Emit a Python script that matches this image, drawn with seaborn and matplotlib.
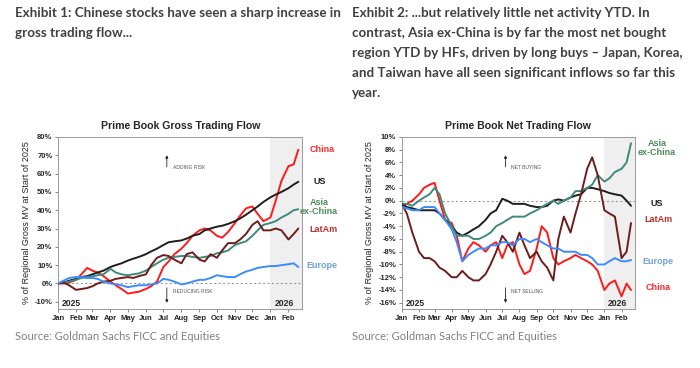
import numpy as np
import pandas as pd
import matplotlib
matplotlib.use("Agg")
import matplotlib.pyplot as plt
import matplotlib.dates as mdates
import seaborn as sns

# sample dates (roughly every 10 days)
dates = pd.to_datetime([
    "2025-01-01", "2025-01-10", "2025-01-20", "2025-02-01", "2025-02-10", "2025-02-20",
    "2025-03-01", "2025-03-10", "2025-03-20", "2025-04-01", "2025-04-10", "2025-04-20",
    "2025-05-01", "2025-05-10", "2025-05-20", "2025-06-01", "2025-06-10", "2025-06-20",
    "2025-07-01", "2025-07-10", "2025-07-20", "2025-08-01", "2025-08-10", "2025-08-20",
    "2025-09-01", "2025-09-10", "2025-09-20", "2025-10-01", "2025-10-10", "2025-10-20",
    "2025-11-01", "2025-11-10", "2025-11-20", "2025-12-01", "2025-12-10", "2025-12-20",
    "2026-01-01", "2026-01-10", "2026-01-20", "2026-02-01", "2026-02-10", "2026-02-18",
])

regions = ["China", "US", "Asia ex-China", "LatAm", "Europe"]

# Exhibit 1: gross trading flow (% of regional gross MV at start of 2025)
gross_china = [0, 0, 0.5, 2, 5, 8.5, 7, 6, 4, 1, -1, -3, -5.5, -5, -4.5, -3, -1.5, 1,
               9, 12, 16, 19, 22, 26, 29, 30, 29, 26, 25, 28, 33, 37, 41, 42, 38, 34,
               36, 45, 56, 64, 65, 73]
gross_us = [0, 0.5, 1.5, 2.5, 3.5, 4, 5, 6, 7, 9, 10, 11, 12.5, 13.5, 14.5, 16, 17.5, 19,
            21, 22.5, 23, 23.5, 24.5, 26, 27, 29, 30, 31, 31.5, 32.5, 34, 35.5, 37.5, 40,
            42, 44.5, 47, 48.5, 50, 52, 54, 55.5]
gross_asia = [0, 0.5, 1, 2, 3, 3.5, 4, 4.5, 5, 8, 6, 5, 4.5, 5, 5.5, 7, 9, 11,
              13, 14, 14.5, 15, 15, 14.5, 14, 14.5, 15, 16.5, 17, 18, 21, 22, 23, 26,
              29, 32, 33, 34, 36, 38, 40, 40.5]
gross_latam = [0, 0.5, -1, -3.5, -3, -2.5, -1.5, 0, 1, 1.5, 2.5, 3, 3.5, 3, 4, 5, 10, 14,
               15.5, 15, 13, 11, 16, 17, 13, 12, 16, 14, 18, 22, 22, 24, 27, 32, 34, 29,
               29, 30, 29, 24, 27, 30]
gross_europe = [0, 1.5, 3, 3.5, 3.5, 3, 3, 2.5, 1, 0, -0.5, -1, -2, -1.5, -1, -1, -0.5, 0,
                2.5, 2, 1, -0.5, 0, 1, 2, 2, 3, 4.5, 4, 3.5, 3.5, 5, 6.5, 7.5, 8.5, 9,
                9.5, 9.5, 10, 10.5, 11, 9]

# Exhibit 2: net trading flow
net_asia = [-0.5, -0.5, -0.8, 0, 0.5, 1, 2, 1, -2, -4, -5.5, -5.5, -5.5, -6, -6, -5.5, -5, -4,
            -3.5, -3, -2.5, -2.5, -2.5, -2, -1.5, -1, -0.5, 0, -0.5, 0, 0.5, 1.5, 1.5, 2,
            2.5, 4, 3, 3.5, 4.5, 5, 6, 9]
net_us = [-0.5, -1, -1.2, -1.5, -1.5, -1.5, -1.5, -2, -3, -4, -5, -5.5, -5, -4.5, -4, -3, -2, -1.5,
          0.3, 0, -0.5, -0.5, -0.5, -0.8, -1, -1, -0.8, 0, 0.2, 0, 0.5, 0.8, 1, 2,
          2, 1.8, 1.5, 1.2, 1, 0.8, 0, -0.8]
net_latam = [-0.5, -2, -5, -8, -9, -9, -9.5, -10.5, -11, -12, -12, -11, -12, -12.5, -12.5, -11.5, -10, -8,
             -5.5, -6.5, -8, -5, -7, -9, -8, -9.5, -10.5, -12.5, -6, -2.5, -5, -2, 1, 5,
             6.8, 4, -1.5, -2, -2.5, -9, -8, -3.5]
net_china = [-1, -0.5, 0, 1, 2, 2.5, 2.8, 0, -3, -3.5, -5.5, -9.5, -7.5, -6.5, -7, -8, -7, -6.5,
             -9, -7, -6.5, -10, -11.5, -11, -7.5, -4, -5, -9, -10, -9.5, -9, -8.5, -9, -9.5,
             -10, -11, -14, -13, -12.5, -15, -13, -14]
net_europe = [-1, -1.2, -1.5, -1.5, -1, -1, -1, -2, -3, -4.5, -6.5, -9.5, -8.5, -8, -7.5, -7.5, -7, -7,
              -6.5, -6.5, -7, -6, -6, -6.5, -6, -6.5, -7, -7.5, -7.5, -8, -8, -8, -8.5, -8.5,
              -9, -10, -10, -9.5, -9, -9.5, -9.5, -9.3]

line_colors = {"China": "#ff1a1a", "US": "#1e1e1e", "Asia ex-China": "#3f8a78",
               "LatAm": "#6e1c1c", "Europe": "#3b8cff"}
label_colors = {"China": "#ff2a2a", "US": "#1e1e1e", "Asia ex-China": "#4f8a5a",
                "LatAm": "#c0302a", "Europe": "#6fa2e0"}

gross = pd.DataFrame({"date": np.tile(dates, 5),
                      "region": np.repeat(regions, len(dates)),
                      "value": gross_china + gross_us + gross_asia + gross_latam + gross_europe})
net = pd.DataFrame({"date": np.tile(dates, 5),
                    "region": np.repeat(regions, len(dates)),
                    "value": net_china + net_us + net_asia + net_latam + net_europe})

sns.set_style("white")
plt.rcParams["font.family"] = ["Liberation Sans", "DejaVu Sans"]

fig = plt.figure(figsize=(7, 3.68), dpi=100)
ax1 = fig.add_axes([0.083, 0.160, 0.349, 0.468])
ax2 = fig.add_axes([0.574, 0.160, 0.333, 0.468])

hdr = dict(family=["Lato", "DejaVu Sans"], fontweight="bold", color="#404040", fontsize=9.6, va="center")
fig.text(15 / 700, 1 - 13 / 368, "Exhibit 1: Chinese stocks have seen a sharp increase in", **hdr)
fig.text(15 / 700, 1 - 33 / 368, "gross trading flow...", **hdr)
right_lines = ["Exhibit 2: ...but relatively little net activity YTD. In",
               "contrast, Asia ex-China is by far the most net bought",
               "region YTD by HFs, driven by long buys \u2013 Japan, Korea,",
               "and Taiwan have all seen significant inflows so far this",
               "year."]
for i, t in enumerate(right_lines):
    fig.text(352 / 700, 1 - (13 + 20 * i) / 368, t, **hdr)

src = dict(family=["Lato", "DejaVu Sans"], color="#808080", fontsize=8, va="center")
fig.text(15 / 700, 1 - 336 / 368, "Source: Goldman Sachs FICC and Equities", **src)
fig.text(352 / 700, 1 - 336 / 368, "Source: Goldman Sachs FICC and Equities", **src)

x0 = pd.Timestamp("2025-01-01")
x1 = pd.Timestamp("2026-02-25")
shade0 = pd.Timestamp("2026-01-01")


def style_axis(ax, data, title, ylim, yticks, up_text, down_text, label_pos):
    ax.axvspan(shade0, x1, color="#efefef", zorder=0, lw=0)
    ax.axhline(0, color="#9a9a9a", ls=(0, (2, 2)), lw=0.8, zorder=1)
    sns.lineplot(data=data, x="date", y="value", hue="region", palette=line_colors,
                 hue_order=regions, legend=False, lw=1.4, ax=ax, zorder=3)
    ax.set_xlim(x0, x1)
    ax.set_ylim(*ylim)
    ax.set_yticks(yticks)
    ax.set_yticklabels([f"{v:g}%" for v in yticks], fontsize=5.5, fontweight="bold")
    ax.xaxis.set_major_locator(mdates.MonthLocator())
    ax.xaxis.set_major_formatter(mdates.DateFormatter("%b"))
    for lab in ax.get_xticklabels():
        lab.set_fontsize(5.5)
        lab.set_fontweight("bold")
    ax.tick_params(axis="both", length=2.5, width=0.6, color="#777777", pad=1.5, direction="out",
                   bottom=True, left=True)
    for s in ax.spines.values():
        s.set_color("#999999")
        s.set_linewidth(0.7)
    ax.set_xlabel("")
    ax.set_ylabel("% of Regional Gross MV at Start of 2025", fontsize=6.5, labelpad=3)
    ax.set_title(title, fontsize=7.6, fontweight="bold", pad=6)
    ax.text(0.015, 0.008, "2025", transform=ax.transAxes, fontsize=6.2, fontweight="bold", va="bottom")
    ax.text(0.885, 0.008, "2026", transform=ax.transAxes, fontsize=6.2, fontweight="bold", va="bottom")
    ax.annotate("", xy=(0.445, 0.91), xytext=(0.445, 0.81), xycoords="axes fraction",
                arrowprops=dict(arrowstyle="-|>", color="#222222", lw=0.6, mutation_scale=4))
    ax.text(0.47, 0.82, up_text, transform=ax.transAxes, fontsize=3.6, color="#555555", va="center")
    ax.annotate("", xy=(0.445, 0.02), xytext=(0.445, 0.14), xycoords="axes fraction",
                arrowprops=dict(arrowstyle="-|>", color="#222222", lw=0.6, mutation_scale=4))
    ax.text(0.47, 0.10, down_text, transform=ax.transAxes, fontsize=3.6, color="#555555", va="center")
    for name, (px, py) in label_pos.items():
        fig.text(px / 700, 1 - py / 368, name.replace("Asia ex-China", "Asia\nex-China"),
                 color=label_colors[name], fontsize=6.5, fontweight="bold",
                 ha="center", va="center", linespacing=1.1)


style_axis(ax1, gross, "Prime Book Gross Trading Flow", (-14, 80), list(range(-10, 81, 10)),
           "ADDING RISK", "REDUCING RISK",
           {"China": (322, 149), "US": (320, 181), "Asia ex-China": (319, 207),
            "LatAm": (323, 230), "Europe": (322, 265)})
style_axis(ax2, net, "Prime Book Net Trading Flow", (-17, 10), list(range(-16, 11, 2)),
           "NET BUYING", "NET SELLING",
           {"Asia ex-China": (657, 148), "US": (657, 204), "LatAm": (658, 219),
            "Europe": (658, 261), "China": (658, 288)})

fig.savefig("out.png", dpi=100)
